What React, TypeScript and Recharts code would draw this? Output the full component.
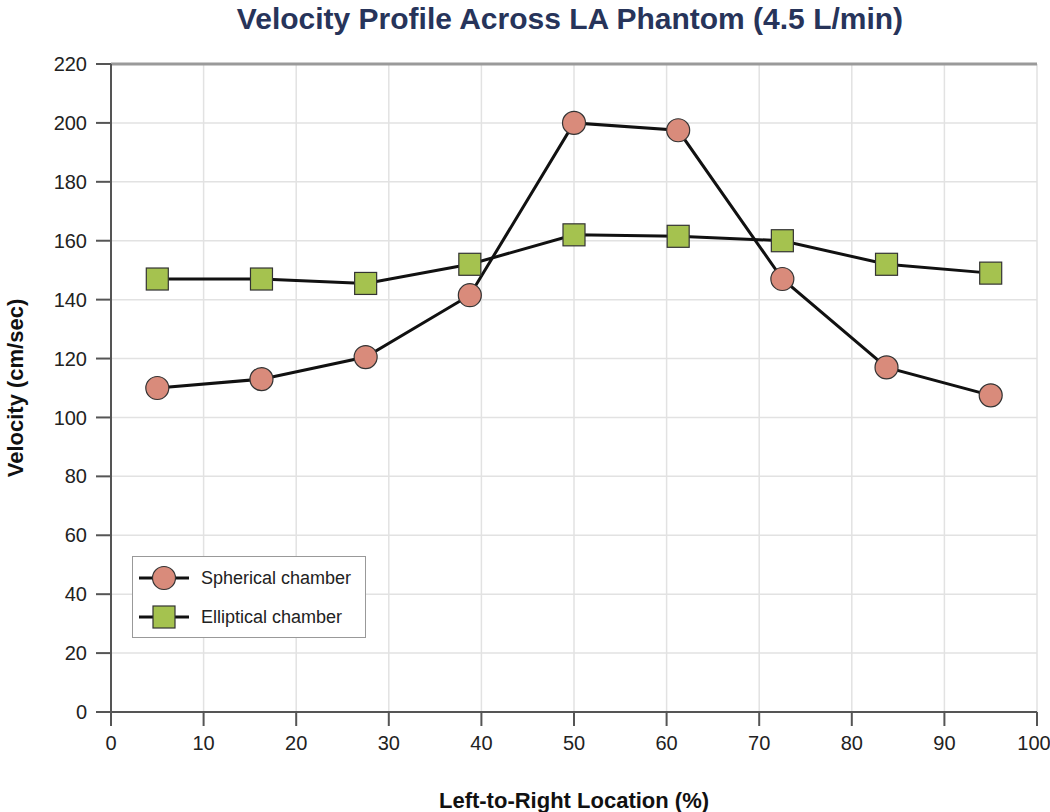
import React from "react";
import {
  LineChart,
  Line,
  XAxis,
  YAxis,
  CartesianGrid,
  ReferenceLine,
} from "recharts";

const locations = [5, 16.25, 27.5, 38.75, 50, 61.25, 72.5, 83.75, 95];
const spherical = [110, 113, 120.5, 141.5, 200, 197.5, 147, 117, 107.5];
const elliptical = [147, 147, 145.5, 152, 162, 161.5, 160, 152, 149];
const xTicks = [0, 10, 20, 30, 40, 50, 60, 70, 80, 90, 100];
const yTicks = [0, 20, 40, 60, 80, 100, 120, 140, 160, 180, 200, 220];
const seriesNames = ["Spherical chamber", "Elliptical chamber"];

const SPH_FILL = "#d98b7b";
const ELL_FILL = "#a5c24f";
const FONT = "'Liberation Sans', Arial, Helvetica, sans-serif";

const data = locations.map((loc, i) => ({
  loc,
  spherical: spherical[i],
  elliptical: elliptical[i],
}));

const SquareDot = (props: any) => {
  const { cx, cy } = props;
  if (cx == null || cy == null) return null;
  return (
    <rect
      x={cx - 11}
      y={cy - 11}
      width={22}
      height={22}
      fill={ELL_FILL}
      stroke="#333"
      strokeWidth={1.2}
    />
  );
};

const CircleDot = (props: any) => {
  const { cx, cy } = props;
  if (cx == null || cy == null) return null;
  return (
    <circle cx={cx} cy={cy} r={11.5} fill={SPH_FILL} stroke="#333" strokeWidth={1.2} />
  );
};

const YLabel = (props: any) => {
  const { viewBox } = props;
  const cy = viewBox.y + viewBox.height / 2;
  return (
    <text
      x={15}
      y={cy}
      transform={`rotate(-90, 15, ${cy})`}
      textAnchor="middle"
      dominantBaseline="central"
      fontFamily={FONT}
      fontWeight="bold"
      fontSize={22}
      fill="#111"
    >
      Velocity (cm/sec)
    </text>
  );
};

const XTick = (props: any) => {
  const { x, y, payload } = props;
  const shift = payload.value === 100 ? -3 : 0;
  return (
    <text
      x={x + shift}
      y={y}
      dy="0.71em"
      textAnchor="middle"
      fontFamily={FONT}
      fontSize={20}
      fill="#222"
    >
      {payload.value}
    </text>
  );
};

const XLabel = (props: any) => {
  const { viewBox } = props;
  const cx = viewBox.x + viewBox.width / 2;
  return (
    <text
      x={cx}
      y={800}
      textAnchor="middle"
      dominantBaseline="central"
      fontFamily={FONT}
      fontWeight="bold"
      fontSize={22}
      fill="#111"
    >
      Left-to-Right Location (%)
    </text>
  );
};

const LegendBox = () => (
  <div
    style={{
      position: "absolute",
      left: 132,
      top: 556,
      width: 232,
      height: 80,
      border: "1.5px solid #999",
      background: "#fff",
      fontFamily: FONT,
      fontSize: 18,
      color: "#222",
    }}
  >
    {seriesNames.map((name, i) => (
      <div
        key={name}
        style={{ display: "flex", alignItems: "center", height: 30, marginTop: i === 0 ? 6 : 9 }}
      >
        <svg width={56} height={30} style={{ marginLeft: 5 }}>
          <line x1={1} y1={15} x2={51} y2={15} stroke="#111" strokeWidth={3} />
          {i === 0 ? (
            <circle cx={26} cy={15} r={11.5} fill={SPH_FILL} stroke="#333" strokeWidth={1.2} />
          ) : (
            <rect x={15} y={4} width={22} height={22} fill={ELL_FILL} stroke="#333" strokeWidth={1.2} />
          )}
        </svg>
        <span style={{ marginLeft: 7 }}>{name}</span>
      </div>
    ))}
  </div>
);

export default function App() {
  return (
    <div style={{ position: "absolute", left: 0, top: 0, width: 1050, height: 812, background: "#fff" }}>
      <div
        style={{
          position: "absolute",
          top: 0,
          left: 0,
          width: 1140,
          textAlign: "center",
          fontFamily: FONT,
          fontWeight: "bold",
          fontSize: 30,
          color: "#27345a",
          lineHeight: "38px",
        }}
      >
        Velocity Profile Across LA Phantom (4.5 L/min)
      </div>
      <LineChart
        width={1050}
        height={812}
        data={data}
        margin={{ top: 64, right: 13, bottom: 0, left: 0 }}
        style={{ position: "absolute", left: 0, top: 0 }}
      >
        <CartesianGrid stroke="#e2e2e2" strokeWidth={1.5} />
        <XAxis
          type="number"
          dataKey="loc"
          domain={[0, 100]}
          ticks={xTicks}
          height={100}
          stroke="#555"
          strokeWidth={2}
          tickSize={14}
          tickMargin={10}
          tick={<XTick />}
          label={<XLabel />}
        />
        <YAxis
          type="number"
          domain={[0, 220]}
          ticks={yTicks}
          width={111}
          stroke="#555"
          strokeWidth={2}
          tickSize={15}
          tickMargin={9}
          tick={{ fontFamily: FONT, fontSize: 20, fill: "#222" }}
          label={<YLabel />}
        />
        <ReferenceLine y={220} stroke="#9a9a9a" strokeWidth={3} />
        <Line
          dataKey="elliptical"
          name={seriesNames[1]}
          stroke="#111"
          strokeWidth={3}
          dot={<SquareDot />}
          activeDot={false}
          isAnimationActive={false}
        />
        <Line
          dataKey="spherical"
          name={seriesNames[0]}
          stroke="#111"
          strokeWidth={3}
          dot={<CircleDot />}
          activeDot={false}
          isAnimationActive={false}
        />
      </LineChart>
      <LegendBox />
    </div>
  );
}
